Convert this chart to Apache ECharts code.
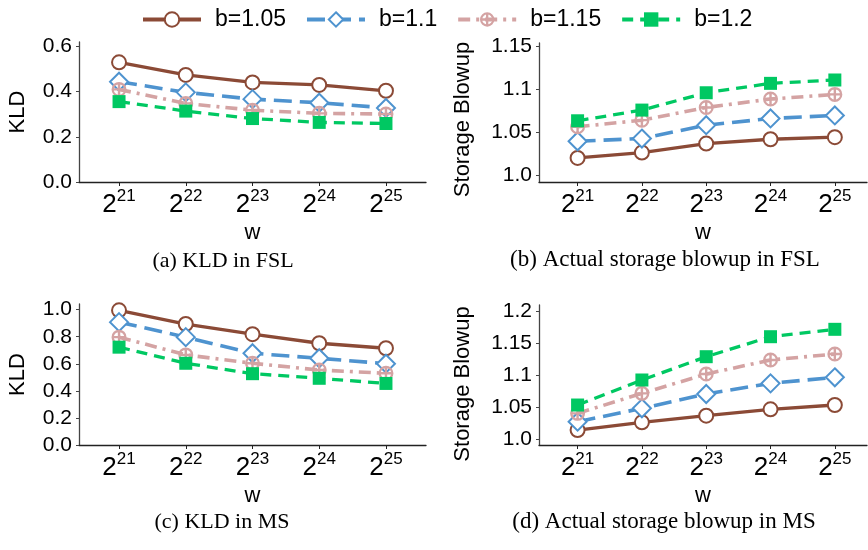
<!DOCTYPE html>
<html lang="en">
<head>
<meta charset="UTF-8">
<title>KLD and storage blowup vs w</title>
<script src="https://cdn.jsdelivr.net/npm/echarts@6/dist/echarts.min.js"></script>
<style>
  html, body {margin: 0; padding: 0; background: #fff}
  #chart {width: 868px; height: 550px}
</style>
</head>
<body>
<div id="chart"></div>
<script>
// w = 2^21 .. 2^25
const wExps = ['21', '22', '23', '24', '25']
const seriesNames = ['b=1.05', 'b=1.1', 'b=1.15', 'b=1.2']

// (a) KLD in FSL
const kldFsl105 = [0.530, 0.474, 0.441, 0.430, 0.404]
const kldFsl11 = [0.444, 0.397, 0.367, 0.351, 0.328]
const kldFsl115 = [0.410, 0.348, 0.318, 0.304, 0.301]
const kldFsl12 = [0.356, 0.314, 0.281, 0.264, 0.259]

// (b) Actual storage blowup in FSL
const blowFsl105 = [1.0205, 1.0267, 1.0372, 1.0422, 1.0446]
const blowFsl11 = [1.0399, 1.0430, 1.0585, 1.0663, 1.0698]
const blowFsl115 = [1.0566, 1.0643, 1.0790, 1.0888, 1.0942]
const blowFsl12 = [1.0636, 1.0760, 1.0961, 1.1070, 1.1109]

// (c) KLD in MS
const kldMs105 = [0.995, 0.894, 0.819, 0.752, 0.715]
const kldMs11 = [0.908, 0.797, 0.678, 0.641, 0.601]
const kldMs115 = [0.797, 0.666, 0.604, 0.554, 0.530]
const kldMs12 = [0.723, 0.604, 0.527, 0.493, 0.455]

// (d) Actual storage blowup in MS
const blowMs105 = [1.0141, 1.0262, 1.0366, 1.0466, 1.0534]
const blowMs11 = [1.0272, 1.0482, 1.0707, 1.0874, 1.0969]
const blowMs115 = [1.0403, 1.0717, 1.1021, 1.1241, 1.1335]
const blowMs12 = [1.0534, 1.0927, 1.1293, 1.1607, 1.1723]

// y tick values and their labels
const ticksA = [0, 0.2, 0.4, 0.6]
const labelsA = ['0.0', '0.2', '0.4', '0.6']
const ticksB = [1.0, 1.05, 1.1, 1.15]
const labelsB = ['1.0', '1.05', '1.1', '1.15']
const ticksC = [0, 0.2, 0.4, 0.6, 0.8, 1.0]
const labelsC = ['0.0', '0.2', '0.4', '0.6', '0.8', '1.0']
const ticksD = [1.0, 1.05, 1.1, 1.15, 1.2]
const labelsD = ['1.0', '1.05', '1.1', '1.15', '1.2']

const captions = ['(a) KLD in FSL', '(b) Actual storage blowup in FSL', '(c) KLD in MS', '(d) Actual storage blowup in MS']

const ink = '#222'
const sans = 'Liberation Sans, Arial, sans-serif'
// circle with a plus inside (ring + cross)
const plusCircle = 'path://M50,0A50,50,0,1,1,50,100A50,50,0,1,1,50,0ZM50,15A35,35,0,1,0,50,85A35,35,0,1,0,50,15ZM15,42H85V58H15ZM42,15H58V85H42Z'

const looks = [
    {color: '#8b4a36', symbol: 'emptyCircle', size: 14, dash: 'solid', width: 3.3},
    {color: '#4e93cf', symbol: 'emptyDiamond', size: 18, dash: [18, 8], width: 3.6},
    {color: '#d4a3a3', symbol: plusCircle, size: 15, dash: [12, 6, 3, 6], width: 3.6},
    {color: '#00c862', symbol: 'rect', size: 13, dash: [11, 7], width: 3.3}
]

function xAxisFor(gi, max) {
    return {
        type: 'value', gridIndex: gi, min: -0.6, max: max,
        name: 'w', nameLocation: 'middle', nameGap: 40,
        nameTextStyle: {fontSize: 22, color: '#000', fontFamily: sans},
        axisLine: {show: true, onZero: false, lineStyle: {color: ink, width: 1.3}},
        axisTick: {show: true, customValues: [0, 1, 2, 3, 4], length: 4, lineStyle: {color: ink}},
        axisLabel: {
            customValues: [0, 1, 2, 3, 4], margin: 6,
            formatter: v => '{b|2}{s|' + wExps[Math.round(v)] + '}',
            rich: {
                b: {fontSize: 26, color: '#000', fontFamily: sans},
                s: {fontSize: 17, color: '#000', fontFamily: sans, padding: [0, 0, 16, 0]}
            }
        },
        splitLine: {show: false}
    }
}

function yAxisFor(gi, min, max, ticks, labels, name, gap, shift) {
    return {
        type: 'value', gridIndex: gi, min: min, max: max,
        name: name, nameLocation: 'middle', nameGap: gap,
        nameTextStyle: {fontSize: 22, color: '#000', fontFamily: sans, padding: [0, shift, 0, 0]},
        axisLine: {show: true, onZero: false, lineStyle: {color: '#444', width: 1.3}},
        axisTick: {show: true, customValues: ticks, length: 3, lineStyle: {color: '#444'}},
        axisLabel: {
            customValues: ticks, margin: 7, fontSize: 21, color: '#000', fontFamily: sans,
            formatter: v => labels[ticks.findIndex(t => Math.abs(t - v) < 1e-6)]
        },
        splitLine: {show: false}
    }
}

function seriesFor(gi, sets) {
    return sets.map((vals, k) => {
        const lk = looks[k]
        return {
            name: seriesNames[k], type: 'line', xAxisIndex: gi, yAxisIndex: gi,
            data: vals.map((v, i) => [i, v]),
            color: lk.color,
            symbol: lk.symbol, symbolSize: lk.size,
            lineStyle: {color: lk.color, width: lk.width, type: lk.dash},
            itemStyle: {color: lk.color, borderWidth: 2.6},
            z: 2 + k,
            animation: false
        }
    })
}

const chart = echarts.init(document.getElementById('chart'))

chart.setOption({
    backgroundColor: '#fff',
    animation: false,
    legend: {
        top: 3, left: 136, itemWidth: 58, itemHeight: 18, itemGap: 19,
        lineStyle: {width: 4},
        textStyle: {fontSize: 23, color: '#000', fontFamily: sans, padding: [0, 0, 0, 9]},
        data: seriesNames
    },
    grid: [
        {left: 79, top: 42, width: 347, height: 140},
        {left: 539, top: 43, width: 328, height: 139},
        {left: 79, top: 304, width: 347, height: 141},
        {left: 539, top: 305, width: 328, height: 140}
    ],
    xAxis: [xAxisFor(0, 4.6), xAxisFor(1, 4.5), xAxisFor(2, 4.6), xAxisFor(3, 4.5)],
    yAxis: [
        yAxisFor(0, 0, 0.62, ticksA, labelsA, 'KLD', 50, 0),
        yAxisFor(1, 0.9926, 1.1538, ticksB, labelsB, 'Storage Blowup', 65, 14),
        yAxisFor(2, 0, 1.042, ticksC, labelsC, 'KLD', 50, 0),
        yAxisFor(3, 0.9906, 1.2105, ticksD, labelsD, 'Storage Blowup', 65, 18)
    ],
    series: [].concat(
        seriesFor(0, [kldFsl105, kldFsl11, kldFsl115, kldFsl12]),
        seriesFor(1, [blowFsl105, blowFsl11, blowFsl115, blowFsl12]),
        seriesFor(2, [kldMs105, kldMs11, kldMs115, kldMs12]),
        seriesFor(3, [blowMs105, blowMs11, blowMs115, blowMs12])
    ),
    graphic: [
        {type: 'text', x: 223, y: 261, style: {text: captions[0], align: 'center', verticalAlign: 'middle', fontSize: 22, fontFamily: 'Liberation Serif', fill: '#000'}},
        {type: 'text', x: 665, y: 260, style: {text: captions[1], align: 'center', verticalAlign: 'middle', fontSize: 23, fontFamily: 'Liberation Serif', fill: '#000'}},
        {type: 'text', x: 222, y: 522, style: {text: captions[2], align: 'center', verticalAlign: 'middle', fontSize: 22, fontFamily: 'Liberation Serif', fill: '#000'}},
        {type: 'text', x: 664, y: 522, style: {text: captions[3], align: 'center', verticalAlign: 'middle', fontSize: 23, fontFamily: 'Liberation Serif', fill: '#000'}}
    ]
})
</script>
</body>
</html>
